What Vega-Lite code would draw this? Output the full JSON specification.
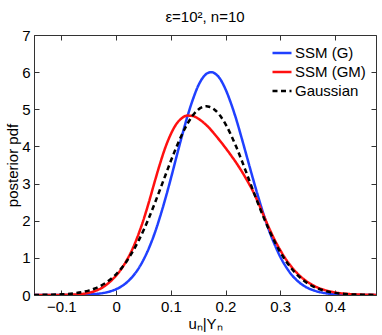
{
  "$schema": "https://vega.github.io/schema/vega-lite/v6.json",
  "width": 342,
  "height": 260,
  "autosize": {"type": "none"},
  "padding": {"left": 34, "top": 35, "right": 6, "bottom": 40},
  "title": {"text": "ε=10², n=10", "fontSize": 15, "fontWeight": "normal", "font": "Liberation Sans", "color": "#000", "offset": 3},
  "config": {
    "font": "Liberation Sans",
    "view": {"stroke": "#333", "strokeWidth": 1},
    "axis": {"domainColor": "#333", "tickColor": "#333", "labelColor": "#000", "titleColor": "#000", "labelFontSize": 15, "titleFontSize": 15, "titleFontWeight": "normal", "grid": false, "tickSize": -5, "labelPadding": 9}
  },
  "datasets": {
    "curves": [
      {"s": "SSM (G)", "u": -0.15, "p": 0},
      {"s": "SSM (G)", "u": -0.125, "p": 0},
      {"s": "SSM (G)", "u": -0.1, "p": 0.001},
      {"s": "SSM (G)", "u": -0.075, "p": 0.003},
      {"s": "SSM (G)", "u": -0.05, "p": 0.014},
      {"s": "SSM (G)", "u": -0.04, "p": 0.024},
      {"s": "SSM (G)", "u": -0.03, "p": 0.039},
      {"s": "SSM (G)", "u": -0.02, "p": 0.064},
      {"s": "SSM (G)", "u": -0.01, "p": 0.101},
      {"s": "SSM (G)", "u": 0.0, "p": 0.155},
      {"s": "SSM (G)", "u": 0.01, "p": 0.234},
      {"s": "SSM (G)", "u": 0.02, "p": 0.344},
      {"s": "SSM (G)", "u": 0.03, "p": 0.494},
      {"s": "SSM (G)", "u": 0.04, "p": 0.69},
      {"s": "SSM (G)", "u": 0.05, "p": 0.946},
      {"s": "SSM (G)", "u": 0.06, "p": 1.26},
      {"s": "SSM (G)", "u": 0.07, "p": 1.64},
      {"s": "SSM (G)", "u": 0.08, "p": 2.09},
      {"s": "SSM (G)", "u": 0.09, "p": 2.59},
      {"s": "SSM (G)", "u": 0.1, "p": 3.13},
      {"s": "SSM (G)", "u": 0.11, "p": 3.7},
      {"s": "SSM (G)", "u": 0.12, "p": 4.26},
      {"s": "SSM (G)", "u": 0.13, "p": 4.79},
      {"s": "SSM (G)", "u": 0.14, "p": 5.25},
      {"s": "SSM (G)", "u": 0.15, "p": 5.63},
      {"s": "SSM (G)", "u": 0.16, "p": 5.88},
      {"s": "SSM (G)", "u": 0.17, "p": 5.99},
      {"s": "SSM (G)", "u": 0.175, "p": 6.0},
      {"s": "SSM (G)", "u": 0.18, "p": 5.97},
      {"s": "SSM (G)", "u": 0.19, "p": 5.82},
      {"s": "SSM (G)", "u": 0.2, "p": 5.54},
      {"s": "SSM (G)", "u": 0.21, "p": 5.16},
      {"s": "SSM (G)", "u": 0.22, "p": 4.71},
      {"s": "SSM (G)", "u": 0.23, "p": 4.2},
      {"s": "SSM (G)", "u": 0.24, "p": 3.67},
      {"s": "SSM (G)", "u": 0.25, "p": 3.14},
      {"s": "SSM (G)", "u": 0.26, "p": 2.63},
      {"s": "SSM (G)", "u": 0.27, "p": 2.15},
      {"s": "SSM (G)", "u": 0.28, "p": 1.72},
      {"s": "SSM (G)", "u": 0.29, "p": 1.35},
      {"s": "SSM (G)", "u": 0.3, "p": 1.03},
      {"s": "SSM (G)", "u": 0.31, "p": 0.77},
      {"s": "SSM (G)", "u": 0.32, "p": 0.56},
      {"s": "SSM (G)", "u": 0.33, "p": 0.4},
      {"s": "SSM (G)", "u": 0.34, "p": 0.28},
      {"s": "SSM (G)", "u": 0.35, "p": 0.19},
      {"s": "SSM (G)", "u": 0.36, "p": 0.13},
      {"s": "SSM (G)", "u": 0.37, "p": 0.085},
      {"s": "SSM (G)", "u": 0.38, "p": 0.055},
      {"s": "SSM (G)", "u": 0.4, "p": 0.02},
      {"s": "SSM (G)", "u": 0.425, "p": 0.005},
      {"s": "SSM (G)", "u": 0.45, "p": 0.001},
      {"s": "SSM (G)", "u": 0.475, "p": 0},
      {"s": "SSM (GM)", "u": -0.15, "p": 0},
      {"s": "SSM (GM)", "u": -0.125, "p": 0.001},
      {"s": "SSM (GM)", "u": -0.1, "p": 0.004},
      {"s": "SSM (GM)", "u": -0.075, "p": 0.015},
      {"s": "SSM (GM)", "u": -0.05, "p": 0.06},
      {"s": "SSM (GM)", "u": -0.04, "p": 0.1},
      {"s": "SSM (GM)", "u": -0.03, "p": 0.16},
      {"s": "SSM (GM)", "u": -0.02, "p": 0.25},
      {"s": "SSM (GM)", "u": -0.01, "p": 0.37},
      {"s": "SSM (GM)", "u": 0.0, "p": 0.52},
      {"s": "SSM (GM)", "u": 0.01, "p": 0.71},
      {"s": "SSM (GM)", "u": 0.02, "p": 0.95},
      {"s": "SSM (GM)", "u": 0.03, "p": 1.24},
      {"s": "SSM (GM)", "u": 0.04, "p": 1.6},
      {"s": "SSM (GM)", "u": 0.05, "p": 2.02},
      {"s": "SSM (GM)", "u": 0.06, "p": 2.5},
      {"s": "SSM (GM)", "u": 0.07, "p": 3.02},
      {"s": "SSM (GM)", "u": 0.08, "p": 3.52},
      {"s": "SSM (GM)", "u": 0.09, "p": 3.97},
      {"s": "SSM (GM)", "u": 0.1, "p": 4.33},
      {"s": "SSM (GM)", "u": 0.11, "p": 4.6},
      {"s": "SSM (GM)", "u": 0.12, "p": 4.76},
      {"s": "SSM (GM)", "u": 0.13, "p": 4.83},
      {"s": "SSM (GM)", "u": 0.14, "p": 4.82},
      {"s": "SSM (GM)", "u": 0.15, "p": 4.75},
      {"s": "SSM (GM)", "u": 0.16, "p": 4.64},
      {"s": "SSM (GM)", "u": 0.17, "p": 4.5},
      {"s": "SSM (GM)", "u": 0.18, "p": 4.33},
      {"s": "SSM (GM)", "u": 0.19, "p": 4.15},
      {"s": "SSM (GM)", "u": 0.2, "p": 3.96},
      {"s": "SSM (GM)", "u": 0.21, "p": 3.76},
      {"s": "SSM (GM)", "u": 0.22, "p": 3.55},
      {"s": "SSM (GM)", "u": 0.23, "p": 3.32},
      {"s": "SSM (GM)", "u": 0.24, "p": 3.07},
      {"s": "SSM (GM)", "u": 0.25, "p": 2.8},
      {"s": "SSM (GM)", "u": 0.26, "p": 2.48},
      {"s": "SSM (GM)", "u": 0.27, "p": 2.13},
      {"s": "SSM (GM)", "u": 0.28, "p": 1.79},
      {"s": "SSM (GM)", "u": 0.29, "p": 1.48},
      {"s": "SSM (GM)", "u": 0.3, "p": 1.21},
      {"s": "SSM (GM)", "u": 0.31, "p": 0.97},
      {"s": "SSM (GM)", "u": 0.32, "p": 0.77},
      {"s": "SSM (GM)", "u": 0.33, "p": 0.6},
      {"s": "SSM (GM)", "u": 0.34, "p": 0.46},
      {"s": "SSM (GM)", "u": 0.35, "p": 0.35},
      {"s": "SSM (GM)", "u": 0.36, "p": 0.26},
      {"s": "SSM (GM)", "u": 0.37, "p": 0.19},
      {"s": "SSM (GM)", "u": 0.38, "p": 0.14},
      {"s": "SSM (GM)", "u": 0.4, "p": 0.07},
      {"s": "SSM (GM)", "u": 0.425, "p": 0.028},
      {"s": "SSM (GM)", "u": 0.45, "p": 0.01},
      {"s": "SSM (GM)", "u": 0.475, "p": 0.003},
      {"s": "Gaussian", "u": -0.15, "p": 0.002},
      {"s": "Gaussian", "u": -0.125, "p": 0.006},
      {"s": "Gaussian", "u": -0.1, "p": 0.017},
      {"s": "Gaussian", "u": -0.075, "p": 0.048},
      {"s": "Gaussian", "u": -0.05, "p": 0.119},
      {"s": "Gaussian", "u": -0.04, "p": 0.168},
      {"s": "Gaussian", "u": -0.03, "p": 0.232},
      {"s": "Gaussian", "u": -0.02, "p": 0.316},
      {"s": "Gaussian", "u": -0.01, "p": 0.423},
      {"s": "Gaussian", "u": 0.0, "p": 0.558},
      {"s": "Gaussian", "u": 0.01, "p": 0.723},
      {"s": "Gaussian", "u": 0.02, "p": 0.923},
      {"s": "Gaussian", "u": 0.03, "p": 1.158},
      {"s": "Gaussian", "u": 0.04, "p": 1.43},
      {"s": "Gaussian", "u": 0.05, "p": 1.737},
      {"s": "Gaussian", "u": 0.06, "p": 2.076},
      {"s": "Gaussian", "u": 0.07, "p": 2.443},
      {"s": "Gaussian", "u": 0.08, "p": 2.827},
      {"s": "Gaussian", "u": 0.09, "p": 3.219},
      {"s": "Gaussian", "u": 0.1, "p": 3.606},
      {"s": "Gaussian", "u": 0.11, "p": 3.975},
      {"s": "Gaussian", "u": 0.12, "p": 4.31},
      {"s": "Gaussian", "u": 0.13, "p": 4.6},
      {"s": "Gaussian", "u": 0.14, "p": 4.83},
      {"s": "Gaussian", "u": 0.15, "p": 4.99},
      {"s": "Gaussian", "u": 0.16, "p": 5.07},
      {"s": "Gaussian", "u": 0.165, "p": 5.08},
      {"s": "Gaussian", "u": 0.17, "p": 5.07},
      {"s": "Gaussian", "u": 0.18, "p": 4.99},
      {"s": "Gaussian", "u": 0.19, "p": 4.83},
      {"s": "Gaussian", "u": 0.2, "p": 4.6},
      {"s": "Gaussian", "u": 0.21, "p": 4.31},
      {"s": "Gaussian", "u": 0.22, "p": 3.975},
      {"s": "Gaussian", "u": 0.23, "p": 3.606},
      {"s": "Gaussian", "u": 0.24, "p": 3.219},
      {"s": "Gaussian", "u": 0.25, "p": 2.827},
      {"s": "Gaussian", "u": 0.26, "p": 2.443},
      {"s": "Gaussian", "u": 0.27, "p": 2.076},
      {"s": "Gaussian", "u": 0.28, "p": 1.737},
      {"s": "Gaussian", "u": 0.29, "p": 1.43},
      {"s": "Gaussian", "u": 0.3, "p": 1.158},
      {"s": "Gaussian", "u": 0.31, "p": 0.923},
      {"s": "Gaussian", "u": 0.32, "p": 0.723},
      {"s": "Gaussian", "u": 0.33, "p": 0.558},
      {"s": "Gaussian", "u": 0.34, "p": 0.423},
      {"s": "Gaussian", "u": 0.35, "p": 0.316},
      {"s": "Gaussian", "u": 0.36, "p": 0.232},
      {"s": "Gaussian", "u": 0.37, "p": 0.168},
      {"s": "Gaussian", "u": 0.38, "p": 0.119},
      {"s": "Gaussian", "u": 0.4, "p": 0.057},
      {"s": "Gaussian", "u": 0.425, "p": 0.021},
      {"s": "Gaussian", "u": 0.45, "p": 0.007},
      {"s": "Gaussian", "u": 0.475, "p": 0.002}
    ]
  },
  "data": {"name": "curves"},
  "layer": [
    {
      "mark": {"type": "line", "strokeWidth": 2.5, "interpolate": "monotone", "clip": true},
      "encoding": {
        "x": {"field": "u", "type": "quantitative", "scale": {"domain": [-0.15, 0.475], "nice": false, "zero": false},
              "axis": {"orient": "bottom", "values": [-0.1, 0, 0.1, 0.2, 0.3, 0.4], "format": ".1~f", "title": "uₙ|Yₙ", "titlePadding": 2}},
        "y": {"field": "p", "type": "quantitative", "scale": {"domain": [0, 7], "nice": false},
              "axis": {"orient": "left", "values": [0, 1, 2, 3, 4, 5, 6, 7], "title": "posterior pdf", "titlePadding": 1}},
        "color": {"field": "s", "type": "nominal",
                  "scale": {"domain": ["SSM (G)", "SSM (GM)", "Gaussian"], "range": ["#2040ff", "#ff1010", "#000000"]},
                  "legend": {"title": null, "orient": "none", "legendX": 237, "legendY": 7, "symbolType": "stroke", "symbolSize": 361, "symbolStrokeWidth": 2.5, "labelFontSize": 15, "labelOffset": 2, "rowPadding": 0, "padding": 0}},
        "strokeDash": {"field": "s", "type": "nominal",
                  "scale": {"domain": ["SSM (G)", "SSM (GM)", "Gaussian"], "range": [[1, 0], [1, 0], [5, 3.5]]},
                  "legend": {"title": null, "orient": "none", "legendX": 237, "legendY": 7, "symbolType": "stroke", "symbolSize": 361, "symbolStrokeWidth": 2.5, "labelFontSize": 15, "labelOffset": 2, "rowPadding": 0, "padding": 0}}
      }
    },
    {
      "mark": {"type": "point", "opacity": 0},
      "encoding": {
        "x": {"field": "u", "type": "quantitative", "axis": {"orient": "top", "values": [-0.1, 0, 0.1, 0.2, 0.3, 0.4], "labels": false, "title": null, "domain": false}},
        "y": {"field": "p", "type": "quantitative", "axis": {"orient": "right", "values": [0, 1, 2, 3, 4, 5, 6, 7], "labels": false, "title": null, "domain": false}}
      }
    }
  ],
  "resolve": {"axis": {"x": "independent", "y": "independent"}}
}
